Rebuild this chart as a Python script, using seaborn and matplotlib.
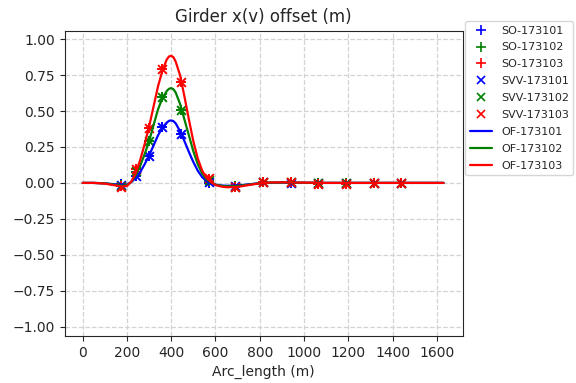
import matplotlib
matplotlib.use("Agg")
import matplotlib.pyplot as plt
import seaborn as sns
import pandas as pd

# Survey stations along the girder (arc length, m)
stations = [175, 240, 300, 358, 444, 570, 688, 815, 940, 1065, 1190, 1315, 1440]

# Surveyed offsets (SO) per girder line
so_173101 = [-0.010, 0.045, 0.19, 0.39, 0.34, 0.000, -0.020, 0.003, 0.002, -0.003, -0.003, 0.001, 0.001]
so_173102 = [-0.018, 0.075, 0.29, 0.60, 0.51, 0.015, -0.025, 0.004, 0.003, -0.004, -0.004, 0.002, 0.002]
so_173103 = [-0.025, 0.095, 0.385, 0.79, 0.70, 0.030, -0.028, 0.005, 0.003, -0.005, -0.005, 0.002, 0.002]

# Stored values (SVV) per girder line
svv_173101 = [-0.012, 0.050, 0.19, 0.39, 0.34, 0.004, -0.022, 0.003, 0.002, -0.003, -0.003, 0.001, 0.001]
svv_173102 = [-0.020, 0.080, 0.29, 0.60, 0.51, 0.018, -0.027, 0.004, 0.003, -0.004, -0.004, 0.002, 0.002]
svv_173103 = [-0.027, 0.100, 0.385, 0.79, 0.70, 0.033, -0.030, 0.005, 0.003, -0.005, -0.005, 0.002, 0.002]

# Fitted offset curves (OF)
of_x = [0, 50, 100, 150, 175, 200, 220, 240, 260, 280,
        300, 320, 340, 360, 380, 390, 400, 410, 420, 440,
        460, 480, 500, 520, 540, 560, 580, 600, 625, 650,
        700, 750, 800, 850, 900, 1000, 1100, 1200, 1300, 1400,
        1500, 1630]
of_173101 = [0, 0, -0.003, -0.010, -0.014, -0.012, 0.006, 0.035, 0.075, 0.13,
             0.19, 0.26, 0.33, 0.385, 0.42, 0.432, 0.435, 0.43, 0.415, 0.36,
             0.29, 0.215, 0.145, 0.085, 0.04, 0.012, -0.003, -0.012, -0.018, -0.020,
             -0.018, -0.010, -0.002, 0.001, 0.002, 0.001, 0, 0, 0, 0,
             0, 0]
of_173102 = [0, 0, -0.003, -0.014, -0.020, -0.016, 0.008, 0.055, 0.12, 0.20,
             0.29, 0.40, 0.51, 0.59, 0.64, 0.655, 0.66, 0.652, 0.63, 0.55,
             0.44, 0.33, 0.22, 0.13, 0.065, 0.025, 0.003, -0.012, -0.020, -0.024,
             -0.022, -0.012, -0.002, 0.002, 0.003, 0.001, 0, 0, 0, 0,
             0, 0]
of_173103 = [0, 0, -0.005, -0.018, -0.025, -0.022, 0.010, 0.07, 0.16, 0.27,
             0.39, 0.53, 0.67, 0.78, 0.86, 0.88, 0.885, 0.875, 0.845, 0.75,
             0.60, 0.44, 0.29, 0.17, 0.085, 0.035, 0.005, -0.015, -0.025, -0.030,
             -0.028, -0.015, -0.003, 0.003, 0.004, 0.002, 0, 0, 0, 0,
             0, 0]

ids = ["173101", "173102", "173103"]
colors = ["b", "g", "r"]
so_vals = [so_173101, so_173102, so_173103]
svv_vals = [svv_173101, svv_173102, svv_173103]
of_vals = [of_173101, of_173102, of_173103]

sns.set_style("ticks")
plt.rcParams["font.family"] = ["DejaVu Sans"]

fig = plt.figure(figsize=(5.76, 3.83), dpi=100)
ax = fig.add_axes([0.112, 0.123, 0.691, 0.797])

handles = []
for gid, c, vals in zip(ids, colors, so_vals):
    df = pd.DataFrame({"s": stations, "v": vals})
    sns.scatterplot(data=df, x="s", y="v", marker="+", color=c, s=55,
                    linewidth=1.4, ax=ax, zorder=3)
    handles.append(plt.Line2D([], [], ls="", marker="+", color=c, ms=7, mew=1.2,
                              label=f"SO-{gid}"))
for gid, c, vals in zip(ids, colors, svv_vals):
    df = pd.DataFrame({"s": stations, "v": vals})
    sns.scatterplot(data=df, x="s", y="v", marker="x", color=c, s=40,
                    linewidth=1.4, ax=ax, zorder=3)
    handles.append(plt.Line2D([], [], ls="", marker="x", color=c, ms=6, mew=1.2,
                              label=f"SVV-{gid}"))
for gid, c, vals in zip(ids, colors, of_vals):
    df = pd.DataFrame({"s": of_x, "v": vals})
    sns.lineplot(data=df, x="s", y="v", color=c, linewidth=1.6, ax=ax,
                 zorder=4, sort=False)
    handles.append(plt.Line2D([], [], color=c, lw=1.6, label=f"OF-{gid}"))

ax.set_xlim(-82, 1716)
ax.set_ylim(-1.065, 1.06)
ax.set_xticks(range(0, 1601, 200))
ytk = [-1.0, -0.75, -0.5, -0.25, 0.0, 0.25, 0.5, 0.75, 1.0]
ax.set_yticks(ytk)
ax.set_yticklabels([f"{t:.2f}".replace("-", "\u2212") for t in ytk])
ax.tick_params(labelsize=10)
ax.grid(True, ls="--", color="#d3d3d3", lw=0.9)
ax.set_axisbelow(True)
ax.set_xlabel("Arc_length (m)", fontsize=10)
ax.set_ylabel("")
ax.set_title("Girder x(v) offset (m)", fontsize=12)

fig.legend(handles=handles, loc="upper left", bbox_to_anchor=(0.808, 0.945),
           fontsize=8, frameon=True, borderaxespad=0.0, handlelength=2.0,
           labelspacing=0.62)

fig.savefig("out.png", dpi=100)
